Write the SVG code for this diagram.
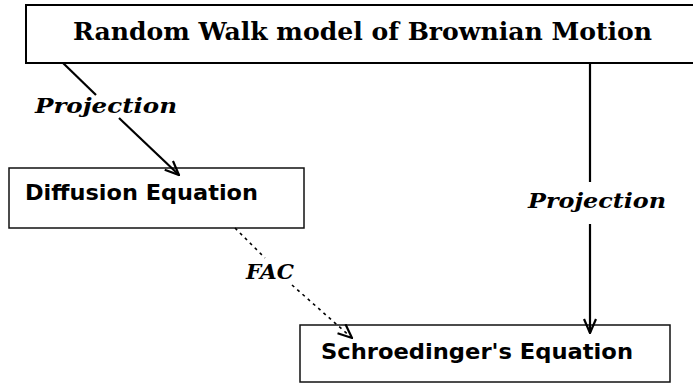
<svg xmlns="http://www.w3.org/2000/svg" width="693" height="385" viewBox="0 0 693 385">
<style>
.box{fill:#fff;stroke:#111;stroke-width:1.5}
.title{font-family:"DejaVu Serif","Liberation Serif",serif;font-weight:bold;font-size:25px;fill:#000}
.lbl{font-family:"DejaVu Sans","Liberation Sans",sans-serif;font-weight:bold;font-size:22px;fill:#000}
.edge{font-family:"DejaVu Serif","Liberation Serif",serif;font-weight:bold;font-style:italic;font-size:21px;fill:#000}
.solid{stroke:#000;stroke-width:2.2;fill:none}
.dash{stroke:#000;stroke-width:1.6;fill:none;stroke-dasharray:3 4}
</style>
<defs>
<marker id="arr" viewBox="0 0 16 14" refX="15" refY="7" markerWidth="16" markerHeight="14" markerUnits="userSpaceOnUse" orient="auto">
<path d="M1,1 L15,7 L1,13" fill="none" stroke="#000" stroke-width="2.2" stroke-dasharray="none"/>
</marker>
</defs>
<rect width="693" height="385" fill="#fff"/>
<g id="random-walk">
<rect x="26" y="5" width="700" height="58" fill="#fff" stroke="#000" stroke-width="2"/>
<text class="title" x="73" y="40" textLength="579" lengthAdjust="spacingAndGlyphs">Random Walk model of Brownian Motion</text>
</g>
<g id="diffusion">
<rect class="box" x="9" y="168" width="295" height="60"/>
<text class="lbl" x="25" y="200" textLength="233" lengthAdjust="spacingAndGlyphs">Diffusion Equation</text>
</g>
<g id="schroedinger">
<rect class="box" x="300" y="325" width="370" height="57"/>
<text class="lbl" x="321" y="359" textLength="312" lengthAdjust="spacingAndGlyphs">Schroedinger's Equation</text>
</g>
<g id="connectors">
<line class="solid" x1="63" y1="63" x2="96" y2="95"/>
<line class="solid" x1="119" y1="118" x2="179" y2="175" marker-end="url(#arr)"/>
<line class="solid" x1="590" y1="63" x2="590" y2="182"/>
<line class="solid" x1="590" y1="224" x2="590" y2="333" marker-end="url(#arr)"/>
<line class="dash" x1="235" y1="228" x2="265" y2="258"/>
<line class="dash" x1="292" y1="285" x2="352" y2="338" marker-end="url(#arr)"/>
<text class="edge" x="35" y="113" textLength="142" lengthAdjust="spacingAndGlyphs">Projection</text>
<text class="edge" x="528" y="208" textLength="138" lengthAdjust="spacingAndGlyphs">Projection</text>
<text class="edge" x="246" y="279" textLength="48" lengthAdjust="spacingAndGlyphs">FAC</text>
</g>
</svg>
